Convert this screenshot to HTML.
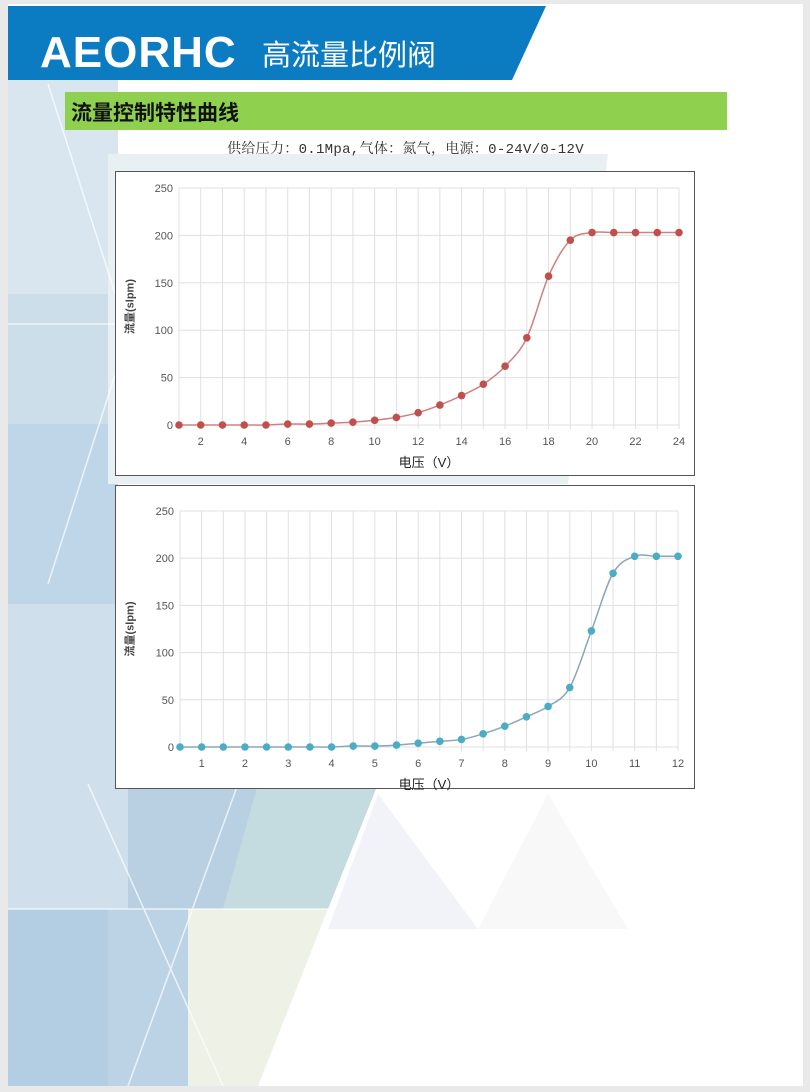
<!DOCTYPE html>
<html><head><meta charset="utf-8">
<style>
body{margin:0;width:810px;height:1092px;overflow:hidden;background:#e9e9e9;font-family:"Liberation Sans","Noto Sans CJK SC",sans-serif}
#page{position:absolute;left:8px;top:4px;width:795px;height:1082px;background:#fff;overflow:hidden}
svg text{font-family:"Liberation Sans","Noto Sans CJK SC",sans-serif}
</style></head><body>
<div id="page">
<svg width="795" height="1082" style="position:absolute;left:0;top:0">
<polygon points="0,76 110,76 110,780 0,780" fill="#dae6ef"/>
<polygon points="0,290 110,290 110,420 0,420" fill="#cddeeb"/>
<polygon points="0,420 110,420 110,600 0,600" fill="#bfd6e9"/>
<polygon points="0,600 110,600 110,780 0,780" fill="#cfe0ec"/>
<polygon points="100,150 600,150 560,480 100,480" fill="#e9f0f4"/>
<polygon points="0,780 320,780 320,905 0,905" fill="#b8d0e2"/>
<polygon points="0,780 120,780 120,905 0,905" fill="#cfe0ec"/>
<polygon points="250,780 370,780 320,905 215,905" fill="#c4dcdf"/>
<polygon points="370,790 470,925 320,925" fill="#f1f3f9"/>
<polygon points="540,790 620,925 470,925" fill="#f8f8f8"/>
<polygon points="0,905 250,905 250,1082 0,1082" fill="#bcd3e6"/>
<polygon points="0,905 100,905 100,1082 0,1082" fill="#b3cde3"/>
<polygon points="180,905 320,905 250,1082 180,1082" fill="#eef1e6"/>
<g stroke="#fff" stroke-width="1.5" opacity="0.7" fill="none">
<line x1="40" y1="80" x2="120" y2="330"/><line x1="120" y1="330" x2="40" y2="580"/>
<line x1="0" y1="320" x2="320" y2="320"/><line x1="80" y1="780" x2="215" y2="1082"/>
<line x1="230" y1="780" x2="120" y2="1082"/><line x1="0" y1="905" x2="320" y2="905"/>
</g>
</svg>
<svg width="795" height="130" style="position:absolute;left:0;top:0">
<polygon points="0,2 538,2 504,76 0,76" fill="#0b7bc2"/>
<text x="32" y="63" font-size="44" font-weight="bold" fill="#fff" letter-spacing="1">AEORHC</text>
<text x="254" y="61" font-size="29" fill="#fff" font-family="Noto Sans CJK SC">高流量比例阀</text>
<rect x="57" y="88" width="662" height="38" fill="#8fd14f"/>
<text x="63" y="116" font-size="21" font-weight="bold" fill="#111" font-family="Noto Sans CJK SC">流量控制特性曲线</text>
</svg>
<div style="position:absolute;left:0;top:134px;width:795px;text-align:center;font-size:14px;letter-spacing:0.3px;color:#333;font-family:'Liberation Mono','Noto Serif CJK SC',serif">供给压力：0.1Mpa,气体：氮气，电源：0-24V/0-12V</div>
</div>
<svg id="c" width="810" height="1092" style="position:absolute;left:0;top:0"></svg>
<script>
const NS="http://www.w3.org/2000/svg";
const chart1X=[1,2,3,4,5,6,7,8,9,10,11,12,13,14,15,16,17,18,19,20,21,22,23,24];
const chart1Y=[0,0,0,0,0,1,1,2,3,5,8,13,21,31,43,62,92,157,195,203,203,203,203,203];
const chart1Ticks=[2,4,6,8,10,12,14,16,18,20,22,24];
const chart2X=[0.5,1,1.5,2,2.5,3,3.5,4,4.5,5,5.5,6,6.5,7,7.5,8,8.5,9,9.5,10,10.5,11,11.5,12];
const chart2Y=[0,0,0,0,0,0,0,0,1,1,2,4,6,8,14,22,32,43,63,123,184,202,202,202];
const chart2Ticks=[1,2,3,4,5,6,7,8,9,10,11,12];
const yTicks=[0,50,100,150,200,250];
const svg=document.getElementById('c');
function el(t,a,p){const e=document.createElementNS(NS,t);for(const k in a)e.setAttribute(k,a[k]);(p||svg).appendChild(e);return e;}
function chart(id,box,xmin,xmax,xs,ys,ticks,step,px0,px1,py0,py1,color,line){
 const g=el('g',{});
 
 
 const fr=el('rect',{x:box[0],y:box[1],width:box[2],height:box[3],fill:'#fff',stroke:'#555','stroke-width':1},g);
 
 
 const sx=v=>px0+(v-xmin)/(xmax-xmin)*(px1-px0);
 const sy=v=>py0-(v/250)*(py0-py1);
 for(let v=xmin;v<=xmax+1e-9;v+=step){const l=el('line',{x1:sx(v),x2:sx(v),y1:py1,y2:py0+4,stroke:'#e0e0e0'},g);
  
  }
 yTicks.forEach(v=>{const l=el('line',{x1:px0,x2:px1,y1:sy(v),y2:sy(v),stroke:'#e0e0e0'},g);
  
  
  const t=el('text',{x:px0-6,y:sy(v)+4,'text-anchor':'end','font-size':11,fill:'#555'},g);t.textContent=v;
  
  });
 ticks.forEach(v=>{const t=el('text',{x:sx(v),y:py0+20,'text-anchor':'middle','font-size':11,fill:'#555'},g);t.textContent=v;
  
  });
 const xt=el('text',{x:(px0+px1)/2,y:py0+42,'text-anchor':'middle','font-size':13,fill:'#222'},g);xt.textContent='电压（V）';
 
 
 const cy=(py0+py1)/2;
 const yt=el('text',{x:box[0]+18,y:cy,'text-anchor':'middle','font-size':11,'font-weight':'bold',fill:'#444',transform:`rotate(-90 ${box[0]+18} ${cy})`},g);yt.textContent='流量(slpm)';
 
 
 const P=xs.map((x,i)=>[sx(x),sy(ys[i])]);
 let d=`M${P[0][0]},${P[0][1]}`;
 for(let i=0;i<P.length-1;i++){const p0=P[Math.max(0,i-1)],p1=P[i],p2=P[i+1],p3=P[Math.min(P.length-1,i+2)];
  const c1=[p1[0]+(p2[0]-p0[0])/6,p1[1]+(p2[1]-p0[1])/6],c2=[p2[0]-(p3[0]-p1[0])/6,p2[1]-(p3[1]-p1[1])/6];
  d+=` C${c1[0]},${c1[1]} ${c2[0]},${c2[1]} ${p2[0]},${p2[1]}`;}
 const path=el('path',{d:d,fill:'none',stroke:line,'stroke-width':1.5},g);
 
 
 P.forEach(p=>{const c=el('circle',{cx:p[0],cy:p[1],r:3.8,fill:color},g);
  
  });
}
chart('chart-24v',[115.5,171.5,579,304],1,24,chart1X,chart1Y,chart1Ticks,1,179,679,425,188,'#c0504d','#d08080');
chart('chart-12v',[115.5,485.5,579,303],0.5,12,chart2X,chart2Y,chart2Ticks,0.5,180,678,747,511,'#4bacc6','#8aa6bb');
</script>
</body></html>
